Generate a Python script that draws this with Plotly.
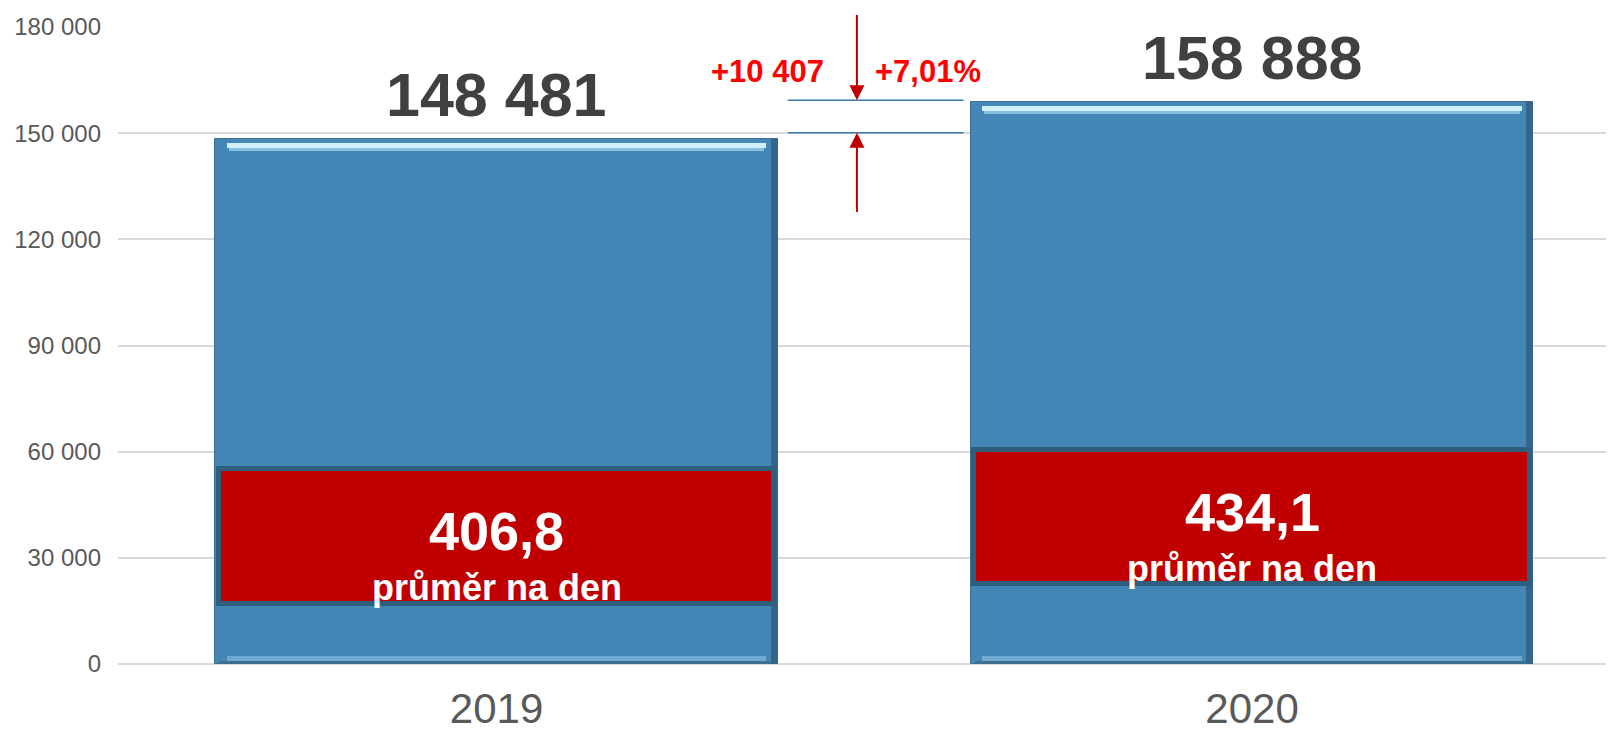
import plotly.graph_objects as go

# ---- data ----
years = ["2019", "2020"]
totals = [148481, 158888]
total_labels = ["148 481", "158 888"]
daily_avg_labels = ["406,8", "434,1"]
daily_caption = "průměr na den"
# red "average per day" boxes (in axis units)
box_bottom = [16880, 22520]
box_top = [54980, 60450]
# difference marker
diff_abs_label = "+10 407"
diff_pct_label = "+7,01%"
diff_levels = [159300, 150100]

y_ticks = [0, 30000, 60000, 90000, 120000, 150000, 180000]
y_tick_labels = ["0", "30 000", "60 000", "90 000", "120 000", "150 000", "180 000"]

FONT = "Liberation Sans, Arial, sans-serif"
BLUE = "#4487B6"
RED_BOX = "#C00000"
BOX_EDGE = "#2E5E7E"
ARROW_RED = "#C00000"
TEXT_RED = "#FF0000"

xi = [0, 1]
BAR_W = 0.744

fig = go.Figure()

def deco(y, base, width, color, offset=None):
    kw = dict(x=xi, y=y, base=base, width=width,
              marker=dict(color=color, line=dict(width=0)),
              hoverinfo="skip", showlegend=False)
    if offset is not None:
        kw["offset"] = offset
    fig.add_trace(go.Bar(**kw))

# main bars
fig.add_trace(go.Bar(
    x=xi, y=totals, width=BAR_W,
    marker=dict(color=BLUE, line=dict(color="#3A6F93", width=1)),
    hoverinfo="skip", showlegend=False,
))
# bevel effects (top highlight, bottom band, dark right edge)
deco([1400, 1400], [t - 2600 for t in totals], BAR_W - 0.03, "#d2f0fb")
deco([1000, 1000], [t - 3600 for t in totals], BAR_W - 0.035, "#86c0df")
deco([1300, 1300], [900, 900], BAR_W - 0.03, "#6fa9cf")
deco([700, 700], [200, 200], BAR_W - 0.01, "#3d6f90")
deco(totals, [0, 0], 0.009, "#35668a", offset=BAR_W / 2 - 0.009)

# red boxes
fig.add_trace(go.Bar(
    x=xi, y=[t - b for t, b in zip(box_top, box_bottom)], base=box_bottom,
    width=0.735,
    marker=dict(color=RED_BOX, line=dict(color=BOX_EDGE, width=5)),
    hoverinfo="skip", showlegend=False,
))

ann = []
for i in range(2):
    ann.append(dict(x=xi[i], y=totals[i], xref="x", yref="y",
                    text="<b>%s</b>" % total_labels[i], showarrow=False,
                    yanchor="bottom", yshift=8,
                    font=dict(family=FONT, size=61, color="#404040")))
    ann.append(dict(x=xi[i], y=box_top[i], xref="x", yref="y",
                    text="<b>%s</b>" % daily_avg_labels[i], showarrow=False,
                    yanchor="middle", yshift=-62,
                    font=dict(family=FONT, size=54, color="white")))
    ann.append(dict(x=xi[i], y=box_top[i], xref="x", yref="y",
                    text="<b>%s</b>" % daily_caption, showarrow=False,
                    yanchor="middle", yshift=-118,
                    font=dict(family=FONT, size=36, color="white")))

arrow_x = 0.477
# down arrow
ann.append(dict(x=arrow_x, y=diff_levels[0], ax=arrow_x, ay=183800,
                xref="x", yref="y", axref="x", ayref="y", text="",
                showarrow=True, arrowhead=2, arrowsize=1.5, arrowwidth=2,
                arrowcolor=ARROW_RED, standoff=0))
# up arrow
ann.append(dict(x=arrow_x, y=diff_levels[1], ax=arrow_x, ay=127300,
                xref="x", yref="y", axref="x", ayref="y", text="",
                showarrow=True, arrowhead=2, arrowsize=1.5, arrowwidth=2,
                arrowcolor=ARROW_RED, standoff=0))
ann.append(dict(x=0.4354, y=167400, xref="x", yref="y", text="<b>%s</b>" % diff_abs_label,
                showarrow=False, xanchor="right", yanchor="middle",
                font=dict(family=FONT, size=31, color=TEXT_RED)))
ann.append(dict(x=0.4976, y=167400, xref="x", yref="y", text="<b>%s</b>" % diff_pct_label,
                showarrow=False, xanchor="left", yanchor="middle",
                font=dict(family=FONT, size=31, color=TEXT_RED)))

shapes = []
for lv in diff_levels:
    shapes.append(dict(type="line", xref="x", yref="y", x0=0.3855, x1=0.618,
                       y0=lv, y1=lv, line=dict(color="#3B7BAA", width=1.5)))

# the page body has an 8px margin, so the figure is sized/offset to compensate
fig.update_layout(
    width=1606, height=721,
    margin=dict(l=110, r=0, t=19, b=65),
    paper_bgcolor="white", plot_bgcolor="white",
    barmode="overlay", bargap=0,
    annotations=ann, shapes=shapes,
    font=dict(family=FONT),
    xaxis=dict(range=[-0.501, 1.479], tickmode="array", tickvals=xi, ticktext=years,
               tickfont=dict(family=FONT, size=42, color="#595959"),
               showgrid=False, zeroline=False, showline=False, ticks="",
               ticklabelstandoff=16, fixedrange=True, automargin=False),
    yaxis=dict(range=[0, 180000], tickmode="array", tickvals=y_ticks, ticktext=y_tick_labels,
               tickfont=dict(family=FONT, size=24, color="#595959"),
               showgrid=True, gridcolor="#D9D9D9", gridwidth=1.5,
               zeroline=True, zerolinecolor="#D9D9D9", zerolinewidth=1.5,
               showline=False, ticks="", ticklabelstandoff=16, fixedrange=True,
               automargin=False),
)

fig.write_html("out.html")
